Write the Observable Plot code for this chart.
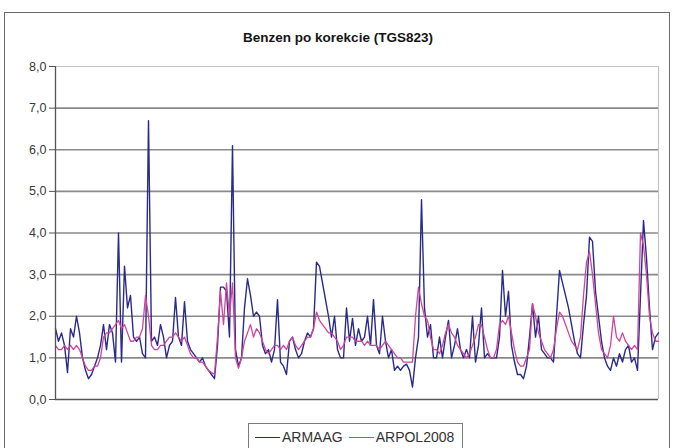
<!DOCTYPE html>
<html><head><meta charset="utf-8">
<script src="https://cdn.jsdelivr.net/npm/d3@7"></script>
<script src="https://cdn.jsdelivr.net/npm/@observablehq/plot@0.6"></script>
<style>
html,body{margin:0;padding:0;background:#fff;overflow:hidden;}
#wrap{position:relative;width:673px;height:448px;font-family:Arial,"Liberation Sans",sans-serif;}
#frame{position:absolute;left:4px;top:12px;width:666px;height:470px;border:1.5px solid #6b6b6b;box-sizing:border-box;}
#title{position:absolute;left:0;top:30px;width:676px;text-align:center;font-weight:bold;font-size:13.5px;color:#151515;}
#chart{position:absolute;left:0;top:50px;}
#legend{position:absolute;left:248px;top:423px;width:215px;height:30px;border:1px solid #7a7a7a;box-sizing:border-box;display:flex;align-items:flex-start;padding:5px 0 0 6px;font-size:14px;color:#333;}
.item{display:flex;align-items:center;margin-right:6px;}
.sw{display:inline-block;width:25px;height:0;border-top:1.5px solid;margin-right:2px;}
</style>
</head><body>
<div id="wrap">
  <div id="frame"></div>
  <div id="title"></div>
  <div id="chart"></div>
  <div id="legend"></div>
</div>
<script>
const titleText = "Benzen po korekcie (TGS823)";
const seriesNames = ["ARMAAG", "ARPOL2008"];
const seriesColors = ["#2a2a8a", "#d0449c"];
const yTicks = [0, 1, 2, 3, 4, 5, 6, 7, 8];
const gridValues = [1, 2, 3, 4, 5, 6, 7];

const armaag = [
  1.7,1.4,1.6,1.3,0.65,1.7,1.5,2.0,1.6,1.0,
  0.7,0.5,0.6,0.8,1.0,1.3,1.8,1.2,1.8,1.6,
  0.9,4.0,0.9,3.2,2.2,2.5,1.5,1.4,1.5,1.1,
  1.0,6.7,1.4,1.5,1.3,1.8,1.5,1.0,1.3,1.4,
  2.45,1.5,1.3,2.35,1.4,1.2,1.1,1.0,0.9,1.0,
  0.8,0.7,0.6,0.5,1.3,2.7,2.7,2.6,1.5,6.1,
  1.2,0.8,1.0,2.2,2.9,2.5,2.0,2.1,2.0,1.3,
  1.1,1.2,0.9,1.2,2.4,0.9,0.8,0.6,1.4,1.5,
  1.2,1.0,1.1,1.4,1.6,1.5,1.7,3.3,3.2,2.8,
  2.4,2.0,1.5,2.0,1.2,1.0,1.0,2.2,1.4,1.95,
  1.3,1.7,1.4,1.5,2.0,1.3,2.4,1.3,1.1,2.0,
  1.4,1.0,1.2,0.7,0.8,0.7,0.8,0.85,0.7,0.3,
  1.0,1.5,4.8,2.2,1.5,1.8,1.0,1.0,1.5,1.0,
  1.5,1.9,1.0,1.3,1.7,1.2,1.0,1.2,1.0,2.0,
  0.9,1.3,2.2,1.0,1.1,1.0,1.0,1.0,1.5,3.1,
  2.0,2.6,1.3,0.9,0.6,0.6,0.5,0.8,1.5,2.3,
  1.5,2.0,1.2,1.1,1.0,1.0,0.9,2.0,3.1,2.8,
  2.5,2.2,1.8,1.4,1.1,1.0,1.8,2.5,3.9,3.8,
  2.6,2.0,1.4,1.0,0.8,0.7,1.0,0.8,1.1,0.9,
  1.2,1.3,0.9,1.0,0.7,2.5,4.3,3.4,2.2,1.2,
  1.5,1.6
];
const arpol2008 = [
  1.3,1.2,1.2,1.3,1.2,1.3,1.2,1.3,1.2,1.0,
  0.8,0.7,0.7,0.8,0.8,1.0,1.5,1.6,1.6,1.7,
  1.8,1.9,1.7,1.8,1.6,1.4,1.4,1.5,1.5,1.7,
  2.5,2.0,1.3,1.2,1.2,1.3,1.3,1.4,1.5,1.5,
  1.6,1.5,1.4,1.5,1.3,1.1,1.0,1.0,0.9,0.9,
  0.8,0.7,0.65,0.6,1.5,2.6,1.8,2.8,2.0,2.8,
  1.0,0.75,1.0,1.4,1.6,1.8,1.5,1.7,1.6,1.4,
  1.2,1.1,1.2,1.3,1.3,1.2,1.3,1.2,1.4,1.5,
  1.3,1.2,1.3,1.4,1.5,1.5,1.7,2.1,1.9,1.8,
  1.7,1.6,1.6,1.5,1.4,1.2,1.3,1.5,1.5,1.5,
  1.4,1.4,1.4,1.3,1.4,1.3,1.3,1.3,1.2,1.3,
  1.4,1.3,1.2,1.1,1.0,1.0,0.9,0.9,0.9,0.9,
  2.0,2.7,2.3,2.0,1.9,1.5,1.2,1.2,1.1,1.3,
  1.6,1.8,1.6,1.5,1.3,1.2,1.1,1.0,1.1,1.3,
  1.5,1.8,1.8,1.5,1.2,1.0,1.0,1.2,1.8,1.9,
  1.8,2.0,1.6,1.2,0.9,0.8,0.8,1.0,1.2,2.3,
  2.0,1.6,1.4,1.2,1.1,1.0,1.2,1.7,2.1,2.0,
  1.8,1.6,1.4,1.3,1.2,1.5,2.5,3.3,3.55,3.0,
  2.3,1.6,1.2,1.1,1.0,1.3,2.0,1.5,1.4,1.6,
  1.4,1.3,1.2,1.3,1.2,4.0,3.7,3.0,2.0,1.6,
  1.4,1.4
];

const rowsA = armaag.map((v, i) => ({i, v, series: seriesNames[0]}));
const rowsP = arpol2008.map((v, i) => ({i, v, series: seriesNames[1]}));
const lastIndex = armaag.length - 1;

document.getElementById("title").textContent = titleText;

const chart = Plot.plot({
  width: 673,
  height: 365,
  marginTop: 16,
  marginBottom: 16,
  marginLeft: 55,
  marginRight: 15,
  x: {axis: null, domain: [0, lastIndex]},
  y: {domain: [0, 8], axis: null},
  color: {domain: seriesNames, range: seriesColors},
  style: {fontFamily: "Arial, 'Liberation Sans', sans-serif", fontSize: "12.5px", color: "#3a3a3a", background: "transparent", overflow: "visible"},
  marks: [
    Plot.ruleY(gridValues, {stroke: "#8a8a8a", strokeWidth: 1.6}),
    Plot.ruleY([8], {stroke: "#c4c4c4", strokeWidth: 1.2}),
    Plot.ruleX([lastIndex], {stroke: "#c4c4c4", strokeWidth: 1.2}),
    Plot.axisY({ticks: yTicks, tickFormat: d => d.toFixed(1).replace(".", ","), tickSize: 6, tickPadding: 3, stroke: "#555", label: null}),
    Plot.line(rowsA, {x: "i", y: "v", stroke: "series", strokeWidth: 1.4}),
    Plot.line(rowsP, {x: "i", y: "v", stroke: "series", strokeWidth: 1.3}),
    Plot.ruleY([0], {stroke: "#555", strokeWidth: 1.3}),
    Plot.ruleX([0], {stroke: "#555", strokeWidth: 1.3})
  ]
});
document.getElementById("chart").appendChild(chart);

const legend = document.getElementById("legend");
seriesNames.forEach((name, k) => {
  const item = document.createElement("div");
  item.className = "item";
  const sw = document.createElement("span");
  sw.className = "sw";
  sw.style.borderTopColor = seriesColors[k];
  const tx = document.createElement("span");
  tx.textContent = name;
  item.appendChild(sw);
  item.appendChild(tx);
  legend.appendChild(item);
});
</script>
</body></html>
